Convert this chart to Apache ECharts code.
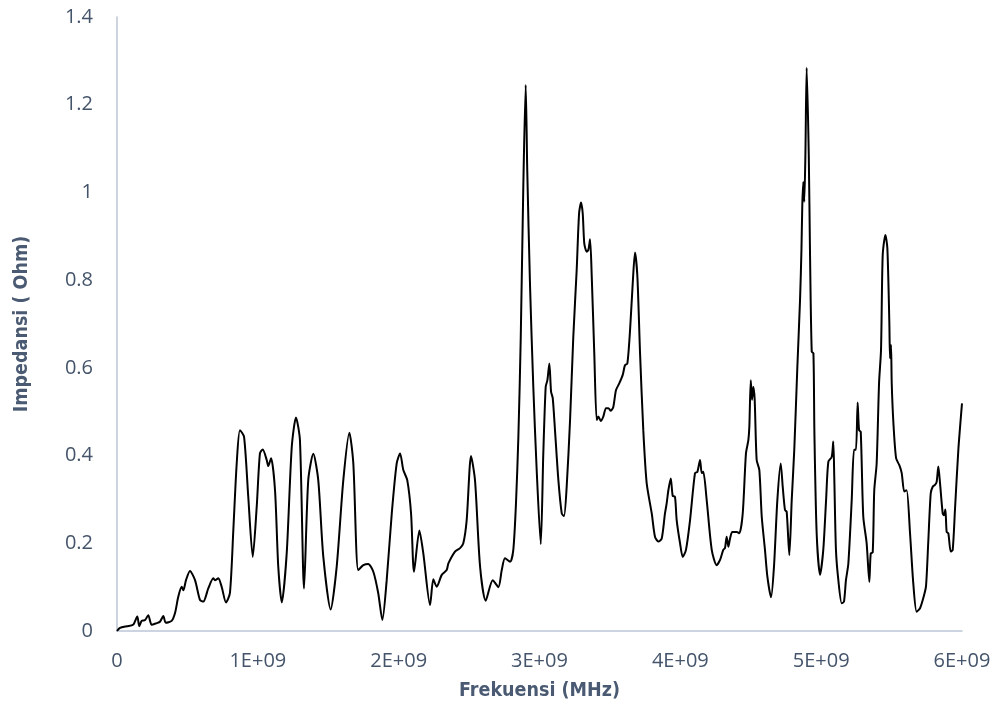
<!DOCTYPE html>
<html>
<head>
<meta charset="utf-8">
<script src="https://cdn.jsdelivr.net/npm/echarts@6/dist/echarts.min.js"></script>
<style>
html,body{margin:0;padding:0;background:#fff;}
#chart{width:995px;height:715px;}
</style>
</head>
<body>
<div id="chart"></div>
<script>
// Frequency (Hz)
const freqHz = [
0,0.021e9,0.069e9,0.114e9,0.144e9,0.158e9,0.175e9,0.199e9,0.222e9,0.246e9,
0.282e9,0.305e9,0.329e9,0.346e9,0.388e9,0.412e9,0.435e9,0.459e9,0.471e9,0.490e9,
0.518e9,0.554e9,0.589e9,0.613e9,0.648e9,0.684e9,0.696e9,0.719e9,0.743e9,0.774e9,
0.802e9,0.826e9,0.850e9,0.873e9,0.902e9,0.932e9,0.964e9,0.992e9,1.015e9,1.035e9,
1.063e9,1.074e9,1.094e9,1.122e9,1.145e9,1.170e9,1.205e9,1.241e9,1.271e9,1.299e9,
1.328e9,1.358e9,1.394e9,1.429e9,1.465e9,1.517e9,1.560e9,1.607e9,1.650e9,1.678e9,
1.713e9,1.749e9,1.784e9,1.820e9,1.855e9,1.884e9,1.915e9,1.951e9,1.986e9,2.010e9,
2.033e9,2.061e9,2.088e9,2.109e9,2.147e9,2.175e9,2.223e9,2.246e9,2.270e9,2.306e9,
2.341e9,2.353e9,2.400e9,2.436e9,2.459e9,2.483e9,2.514e9,2.542e9,2.578e9,2.618e9,
2.668e9,2.708e9,2.732e9,2.755e9,2.791e9,2.814e9,2.833e9,2.850e9,2.867e9,2.885e9,
2.902e9,2.913e9,2.933e9,2.956e9,2.980e9,3.009e9,3.027e9,3.044e9,3.056e9,3.070e9,
3.082e9,3.094e9,3.110e9,3.134e9,3.158e9,3.174e9,3.193e9,3.217e9,3.240e9,3.264e9,
3.281e9,3.295e9,3.307e9,3.318e9,3.335e9,3.347e9,3.359e9,3.371e9,3.389e9,3.406e9,
3.418e9,3.435e9,3.453e9,3.472e9,3.489e9,3.506e9,3.524e9,3.543e9,3.567e9,3.591e9,
3.607e9,3.624e9,3.643e9,3.662e9,3.678e9,3.695e9,3.714e9,3.737e9,3.761e9,3.797e9,
3.820e9,3.844e9,3.868e9,3.891e9,3.903e9,3.915e9,3.932e9,3.946e9,3.962e9,3.974e9,
3.998e9,4.017e9,4.040e9,4.069e9,4.104e9,4.121e9,4.140e9,4.152e9,4.163e9,4.187e9,
4.223e9,4.258e9,4.282e9,4.305e9,4.317e9,4.329e9,4.341e9,4.353e9,4.369e9,4.400e9,
4.419e9,4.443e9,4.466e9,4.483e9,4.490e9,4.500e9,4.509e9,4.518e9,4.528e9,4.542e9,
4.561e9,4.578e9,4.601e9,4.618e9,4.644e9,4.665e9,4.689e9,4.713e9,4.727e9,4.743e9,
4.755e9,4.774e9,4.791e9,4.809e9,4.831e9,4.850e9,4.860e9,4.866e9,4.873e9,4.880e9,
4.888e9,4.897e9,4.912e9,4.921e9,4.933e9,4.945e9,4.952e9,4.968e9,4.992e9,5.015e9,
5.035e9,5.051e9,5.075e9,5.086e9,5.093e9,5.105e9,5.122e9,5.146e9,5.162e9,5.176e9,
5.193e9,5.217e9,5.233e9,5.247e9,5.259e9,5.269e9,5.281e9,5.299e9,5.323e9,5.342e9,
5.352e9,5.366e9,5.377e9,5.394e9,5.411e9,5.425e9,5.437e9,5.456e9,5.470e9,5.484e9,
5.489e9,5.496e9,5.501e9,5.513e9,5.532e9,5.555e9,5.572e9,5.590e9,5.607e9,5.631e9,
5.654e9,5.678e9,5.702e9,5.725e9,5.744e9,5.760e9,5.778e9,5.792e9,5.808e9,5.820e9,
5.832e9,5.844e9,5.863e9,5.872e9,5.882e9,5.891e9,5.903e9,5.920e9,5.934e9,5.950e9,
5.974e9,6.000e9
];
// Impedance (Ohm)
const impedance = [
0.000,0.007,0.011,0.014,0.033,0.011,0.023,0.025,0.036,0.014,
0.018,0.021,0.034,0.019,0.023,0.041,0.078,0.101,0.093,0.116,
0.137,0.116,0.071,0.067,0.097,0.120,0.116,0.120,0.101,0.065,
0.087,0.230,0.382,0.458,0.443,0.306,0.169,0.283,0.405,0.414,
0.390,0.376,0.394,0.321,0.147,0.065,0.177,0.420,0.487,0.435,
0.097,0.344,0.404,0.344,0.169,0.049,0.147,0.344,0.452,0.382,
0.139,0.150,0.153,0.135,0.086,0.025,0.116,0.268,0.382,0.405,
0.367,0.344,0.268,0.135,0.229,0.177,0.059,0.118,0.101,0.128,
0.139,0.154,0.181,0.189,0.200,0.253,0.399,0.344,0.147,0.069,
0.116,0.100,0.139,0.166,0.158,0.185,0.291,0.443,0.671,1.013,
1.245,1.051,0.785,0.557,0.367,0.198,0.405,0.557,0.572,0.610,
0.546,0.531,0.458,0.344,0.268,0.262,0.329,0.481,0.671,0.823,
0.952,0.977,0.952,0.884,0.865,0.869,0.893,0.808,0.633,0.481,
0.489,0.479,0.489,0.508,0.508,0.502,0.511,0.549,0.565,0.584,
0.606,0.610,0.686,0.793,0.863,0.808,0.633,0.458,0.337,0.268,
0.215,0.204,0.211,0.268,0.291,0.321,0.348,0.308,0.306,0.253,
0.200,0.169,0.185,0.253,0.360,0.363,0.390,0.360,0.363,0.299,
0.185,0.150,0.162,0.185,0.189,0.215,0.192,0.211,0.226,0.226,
0.223,0.268,0.405,0.435,0.466,0.572,0.527,0.557,0.527,0.390,
0.367,0.261,0.185,0.124,0.077,0.147,0.299,0.382,0.329,0.276,
0.272,0.173,0.299,0.413,0.603,0.755,0.869,0.971,1.024,0.979,
1.085,1.284,1.085,0.857,0.637,0.633,0.451,0.223,0.128,0.185,
0.299,0.386,0.397,0.432,0.352,0.185,0.116,0.063,0.067,0.116,
0.154,0.299,0.413,0.413,0.521,0.458,0.454,0.261,0.200,0.112,
0.177,0.179,0.321,0.382,0.565,0.641,0.857,0.903,0.873,0.705,
0.622,0.652,0.565,0.474,0.394,0.378,0.360,0.318,0.321,0.223,
0.109,0.044,0.052,0.075,0.101,0.200,0.314,0.329,0.333,0.340,
0.375,0.337,0.268,0.264,0.277,0.226,0.223,0.181,0.185,0.276,
0.413,0.519
];
const xTitle = 'Frekuensi (MHz)';
const yTitle = 'Impedansi ( Ohm)';

const points = freqHz.map((f, i) => [f, impedance[i]]);
const labelColor = '#44546a';
const titleColor = '#4a5a72';
const axisLineColor = '#bcc6d6';
const narrowFont = "'Liberation Sans Narrow','DejaVu Sans Condensed','Roboto',sans-serif";

const chart = echarts.init(document.getElementById('chart'), null, {renderer: 'canvas'});
chart.setOption({
  animation: false,
  backgroundColor: '#ffffff',
  grid: {left: 117, right: 33, top: 17, bottom: 84, containLabel: false},
  xAxis: {
    type: 'value',
    min: 0, max: 6e9, interval: 1e9,
    name: xTitle,
    nameLocation: 'middle',
    nameGap: 50,
    nameTextStyle: {fontFamily: narrowFont, fontWeight: 'bold', fontSize: 19.5, color: titleColor},
    axisLine: {show: true, onZero: false, lineStyle: {color: axisLineColor, width: 1.5}},
    axisTick: {show: false},
    splitLine: {show: false},
    axisLabel: {
      margin: 20,
      fontFamily: "'Open Sans','Noto Sans',sans-serif",
      fontSize: 20,
      color: labelColor,
      formatter: v => v === 0 ? '0' : (Math.round(v / 1e9)) + 'E+09'
    }
  },
  yAxis: {
    type: 'value',
    min: 0, max: 1.4, interval: 0.2,
    name: yTitle,
    nameLocation: 'middle',
    nameGap: 85,
    nameRotate: 90,
    nameTextStyle: {fontFamily: narrowFont, fontWeight: 'bold', fontSize: 19.5, color: titleColor},
    axisLine: {show: true, lineStyle: {color: axisLineColor, width: 1.5}},
    axisTick: {show: false},
    splitLine: {show: false},
    axisLabel: {
      margin: 24,
      fontFamily: "'Open Sans','Noto Sans',sans-serif",
      fontSize: 20,
      color: labelColor,
      formatter: v => String(Math.round(v * 10) / 10)
    }
  },
  series: [{
    type: 'line',
    data: points,
    showSymbol: false,
    smooth: 0.25,
    lineStyle: {color: '#000000', width: 2},
    z: 3
  }]
});
</script>
</body>
</html>
